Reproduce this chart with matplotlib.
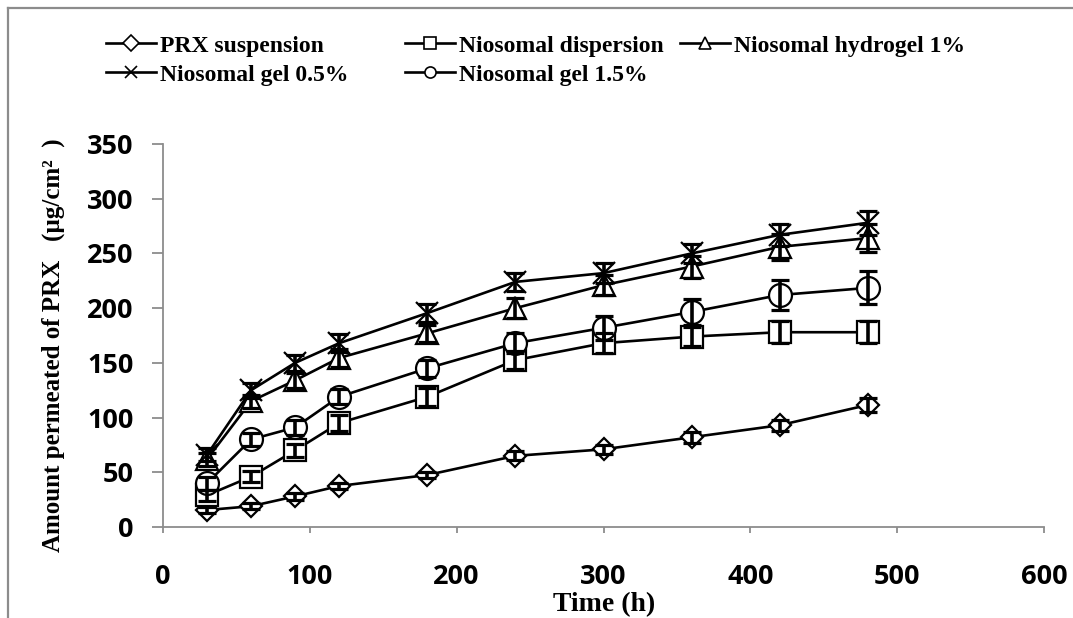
import matplotlib
matplotlib.use('Agg')
import matplotlib.pyplot as plt
from matplotlib.lines import Line2D

# ---- data ----
time_h = [30, 60, 90, 120, 180, 240, 300, 360, 420, 480]

prx_susp = [15.5, 19, 28, 37.5, 47.5, 65, 71, 82, 93, 111.5]
prx_susp_err = [3, 3, 3, 3, 3, 4, 4, 5, 5, 6]

nio_disp = [29, 46, 70, 95, 119, 152.5, 168, 174, 178, 178]
nio_disp_err = [5, 5, 6, 7, 8, 8, 9, 9, 10, 10]

nio_hydro1 = [62, 115, 134, 154.5, 177, 200, 221, 238, 256, 264]
nio_hydro1_err = [6, 6, 7, 8, 8, 9, 9, 10, 12, 13]

nio_gel05 = [66, 125, 150, 168, 195.5, 224, 232, 250, 267, 278]
nio_gel05_err = [6, 7, 7, 8, 8, 8, 9, 9, 10, 11]

nio_gel15 = [40, 80, 91, 119, 145, 168, 182, 196.5, 212, 218.5]
nio_gel15_err = [6, 6, 7, 7, 8, 9, 11, 12, 14, 15]

labels = ['PRX suspension', 'Niosomal dispersion', 'Niosomal hydrogel 1%',
          'Niosomal gel 0.5%', 'Niosomal gel 1.5%']
markers = ['D', 's', '^', 'x', 'o']
msizes = [11.5, 15.5, 16.5, 16.5, 16.5]

xticks = [0, 100, 200, 300, 400, 500, 600]
yticks = [0, 50, 100, 150, 200, 250, 300, 350]

W, H = 1073, 618
fig = plt.figure(figsize=(W / 100, H / 100), dpi=100)

# gray frame, only top and left edges are inside the picture
fig.add_artist(Line2D([8 / W, 1.0], [1 - 8 / H, 1 - 8 / H], transform=fig.transFigure,
                      color='#8c8c8c', linewidth=1.6))
fig.add_artist(Line2D([8 / W, 8 / W], [0.0, 1 - 8 / H], transform=fig.transFigure,
                      color='#8c8c8c', linewidth=1.6))

ax = fig.add_axes([163 / W, 1 - 527 / H, (1044 - 163) / W, (527 - 144) / H])

series = [(prx_susp, prx_susp_err), (nio_disp, nio_disp_err), (nio_hydro1, nio_hydro1_err),
          (nio_gel05, nio_gel05_err), (nio_gel15, nio_gel15_err)]

handles = []
for (vals, errs), lab, mk, ms in zip(series, labels, markers, msizes):
    ax.plot(time_h, vals, '-', color='black', linewidth=1.9, zorder=2)
    ax.plot(time_h, vals, linestyle='none', marker=mk, markersize=ms,
            markerfacecolor='white' if mk != 'x' else 'black', markeredgecolor='black',
            markeredgewidth=1.6, zorder=3)
    ax.errorbar(time_h, vals, yerr=errs, fmt='none', ecolor='black', elinewidth=2.6,
                capsize=6.5, capthick=2.3, zorder=4)
    handles.append(Line2D([], [], color='black', linewidth=1.9, marker=mk, markersize=8,
                          markerfacecolor='white', markeredgecolor='black', markeredgewidth=1.2,
                          label=lab))

ax.set_xlim(0, 600)
ax.set_ylim(0, 350)
ax.set_xticks(xticks)
ax.set_yticks(yticks)

for s in ['top', 'right']:
    ax.spines[s].set_visible(False)
for s in ['left', 'bottom']:
    ax.spines[s].set_color('#8c8c8c')
    ax.spines[s].set_linewidth(1.3)

ax.tick_params(axis='y', direction='out', length=8, width=1.3, color='#8c8c8c', pad=13)
ax.tick_params(axis='x', direction='out', length=4, width=1.3, color='#8c8c8c', pad=23)
for t in ax.get_xticklabels() + ax.get_yticklabels():
    t.set_fontfamily('Open Sans')
    t.set_fontweight('bold')
    t.set_fontsize(19.5)

serif = 'Liberation Serif'
fig.text(604 / W, 1 - 605 / H, 'Time (h)', ha='center', va='center',
         family=serif, weight='bold', size=20)
fig.text(53 / W, 1 - 345 / H, 'Amount permeated of PRX   (µg/cm²  )', ha='center', va='center',
         rotation=90, family=serif, weight='bold', size=18)

# legend, one block per column like the Excel layout
col_x = [106, 405, 680]
cols = [[handles[0], handles[3]], [handles[1], handles[4]], [handles[2]]]
for cx, hs in zip(col_x, cols):
    fig.legend(handles=hs, loc='upper left', bbox_to_anchor=(cx / W, 1 - 35 / H),
               frameon=False, borderpad=0, borderaxespad=0, handlelength=2.1,
               handletextpad=0.2, labelspacing=0.32,
               prop=dict(family=serif, weight='bold', size=17))

fig.savefig('out.png', dpi=100)
